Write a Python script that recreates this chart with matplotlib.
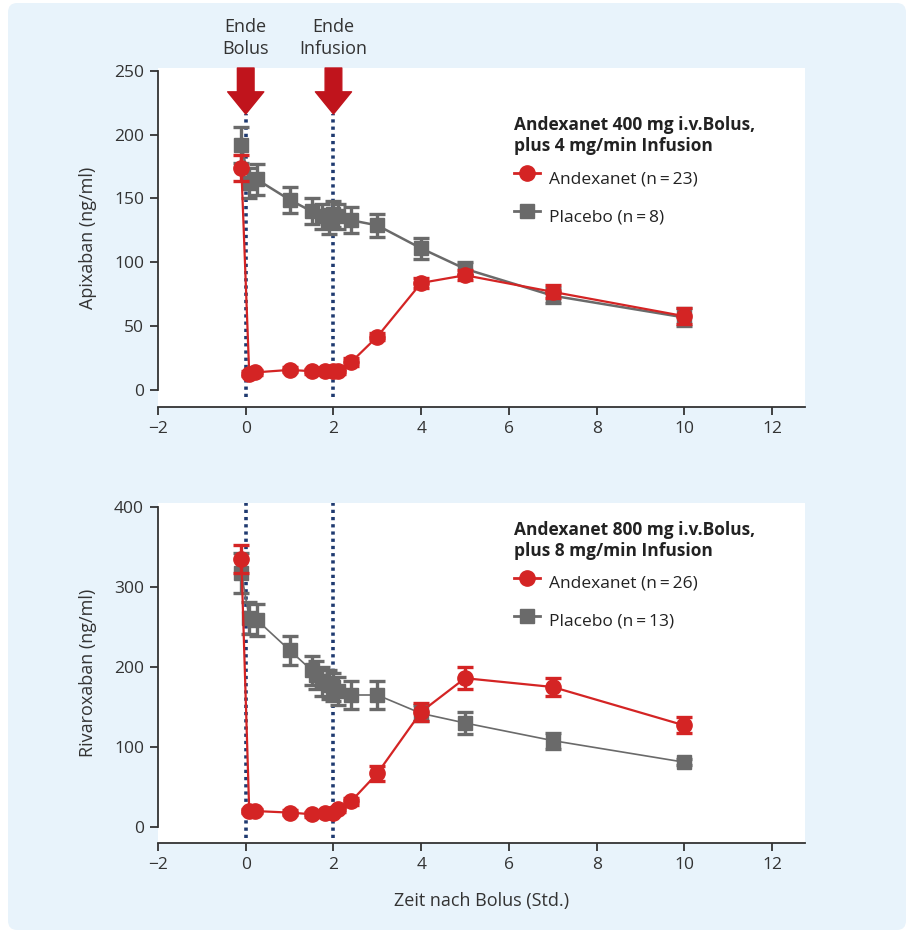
import matplotlib
matplotlib.use("Agg")
import matplotlib.pyplot as plt
from matplotlib.patches import FancyBboxPatch

plt.rcParams["font.family"] = ["Open Sans", "DejaVu Sans"]

# --- data: Apixaban (top panel) ---
x_andex_apix = [-0.1, 0.08, 0.2, 1, 1.5, 1.8, 2.0, 2.1, 2.4, 3, 4, 5, 7, 10]
y_andex_apix = [174, 13, 14, 16, 15, 15, 15, 15, 22, 42, 84, 90, 77, 58]
e_andex_apix = [10, 2, 2, 2, 2, 2, 2, 2, 3, 3, 4, 4, 5, 6]

x_plac_apix = [-0.1, 0.08, 0.25, 1, 1.5, 1.75, 1.9, 2.0, 2.1, 2.4, 3, 4, 5, 7, 10]
y_plac_apix = [192, 162, 165, 149, 140, 136, 132, 138, 136, 133, 129, 111, 95, 74, 57]
e_plac_apix = [14, 12, 12, 10, 10, 10, 10, 10, 10, 10, 9, 8, 5, 6, 7]

# --- data: Rivaroxaban (bottom panel) ---
x_andex_riva = [-0.1, 0.08, 0.2, 1, 1.5, 1.8, 2.0, 2.1, 2.4, 3, 4, 5, 7, 10]
y_andex_riva = [335, 20, 20, 18, 16, 17, 18, 22, 32, 67, 144, 186, 175, 127]
e_andex_riva = [18, 3, 3, 3, 3, 3, 3, 3, 4, 9, 11, 14, 11, 10]

x_plac_riva = [-0.1, 0.08, 0.25, 1, 1.5, 1.6, 1.75, 1.9, 2.0, 2.1, 2.4, 3, 4, 5, 7, 10]
y_plac_riva = [318, 261, 259, 221, 196, 190, 182, 178, 175, 170, 165, 165, 142, 130, 108, 81]
e_plac_riva = [25, 20, 20, 18, 18, 18, 18, 18, 18, 18, 18, 18, 10, 14, 10, 4]

x_ticks = [-2, 0, 2, 4, 6, 8, 10, 12]
event_x = [0, 2]
event_labels = ["Ende\nBolus", "Ende\nInfusion"]

RED = "#d42424"
GRAY = "#6a6a6a"
NAVY = "#1f3a70"
ARROW_RED = "#c0141c"
BG = "#e8f3fb"
INK = "#333333"

W, H = 914, 933
fig = plt.figure(figsize=(W / 100, H / 100), dpi=100)
fig.patch.set_facecolor("white")
bg = FancyBboxPatch((8 / W, 3 / H), 898 / W, 927 / H,
                    boxstyle="round,pad=0,rounding_size=0.01",
                    transform=fig.transFigure, facecolor=BG,
                    edgecolor="none", zorder=-10)
fig.add_artist(bg)


def px_axes(left, top, right, bottom):
    return fig.add_axes([left / W, 1 - bottom / H, (right - left) / W, (bottom - top) / H])


def style_axis(ax, ylim, yticks, ylabel):
    ax.set_facecolor("white")
    ax.set_xlim(-2, 12.75)
    ax.set_ylim(*ylim)
    ax.set_xticks(x_ticks)
    ax.set_xticklabels(["\u22122" if t < 0 else str(t) for t in x_ticks])
    ax.set_yticks(yticks)
    for s in ["top", "right"]:
        ax.spines[s].set_visible(False)
    for s in ["left", "bottom"]:
        ax.spines[s].set_color(INK)
        ax.spines[s].set_linewidth(1.3)
    ax.spines["left"].set_bounds(yticks[0], yticks[-1])
    ax.tick_params(colors=INK, labelsize=12.5, length=6, width=1.3, pad=4)
    ax.set_ylabel(ylabel, fontsize=13, color=INK, labelpad=12)


def draw_series(ax, x, y, e, color, marker, ms, lw, z):
    ax.errorbar(x, y, yerr=e, color=color, marker=marker, markersize=ms,
                linewidth=lw, elinewidth=2.4, capsize=5.5, capthick=2.4,
                zorder=z)


def draw_panel(ax, xa, ya, ea, xp, yp, ep, dot_lo, dot_hi, title, lab_a, lab_p,
               leg_y, gray_lw):
    for xv in event_x:
        ax.plot([xv, xv], [dot_lo, dot_hi], color=NAVY, linewidth=2.6,
                linestyle=(0, (0.9, 1.1)), zorder=2)
    draw_series(ax, xp, yp, ep, GRAY, "s", 10, gray_lw, 3)
    draw_series(ax, xa, ya, ea, RED, "o", 11, 1.6, 4)
    h_a, = ax.plot([], [], color=RED, marker="o", markersize=11, linewidth=2)
    h_p, = ax.plot([], [], color=GRAY, marker="s", markersize=10, linewidth=2)
    leg = ax.legend([h_a, h_p], [lab_a, lab_p], title=title, loc="upper left",
                    bbox_to_anchor=(0.539, leg_y), frameon=False, fontsize=12.5,
                    handlelength=1.5, handleheight=2.3, handletextpad=0.55,
                    labelspacing=0.45, alignment="left", borderaxespad=0)
    leg.get_title().set_fontweight("bold")
    leg.get_title().set_fontsize(12.5)
    leg.get_title().set_color("#222222")
    for t in leg.get_texts():
        t.set_color("#222222")


# top panel
ax1 = px_axes(158, 68, 805, 407)
style_axis(ax1, (-13, 252), [0, 50, 100, 150, 200, 250], "Apixaban (ng/ml)")
draw_panel(ax1, x_andex_apix, y_andex_apix, e_andex_apix,
           x_plac_apix, y_plac_apix, e_plac_apix, -5, 216,
           "Andexanet 400 mg i.v.Bolus,\nplus 4 mg/min Infusion",
           "Andexanet (n\u2009=\u200923)", "Placebo (n\u2009=\u20098)",
           0.879, 1.8)

for xv, lab in zip(event_x, event_labels):
    ax1.annotate("", xy=(xv, 216), xytext=(xv, 252),
                 arrowprops=dict(arrowstyle="simple,head_length=0.8,head_width=1.3,tail_width=0.6",
                                 mutation_scale=20, color=ARROW_RED,
                                 shrinkA=0, shrinkB=0), zorder=5)
    ax1.annotate(lab, xy=(xv, 252), xycoords="data", xytext=(0, 7),
                 textcoords="offset points", ha="center", va="bottom",
                 fontsize=13, color=INK, linespacing=1.32, annotation_clip=False)

# bottom panel
ax2 = px_axes(158, 503, 805, 843)
style_axis(ax2, (-20, 405), [0, 100, 200, 300, 400], "Rivaroxaban (ng/ml)")
draw_panel(ax2, x_andex_riva, y_andex_riva, e_andex_riva,
           x_plac_riva, y_plac_riva, e_plac_riva, -14, 405,
           "Andexanet 800 mg i.v.Bolus,\nplus 8 mg/min Infusion",
           "Andexanet (n\u2009=\u200926)", "Placebo (n\u2009=\u200913)",
           0.968, 1.2)
ax2.set_xlabel("Zeit nach Bolus (Std.)", fontsize=13, color=INK, labelpad=14)

fig.savefig("out.png", dpi=100, facecolor=fig.get_facecolor())
